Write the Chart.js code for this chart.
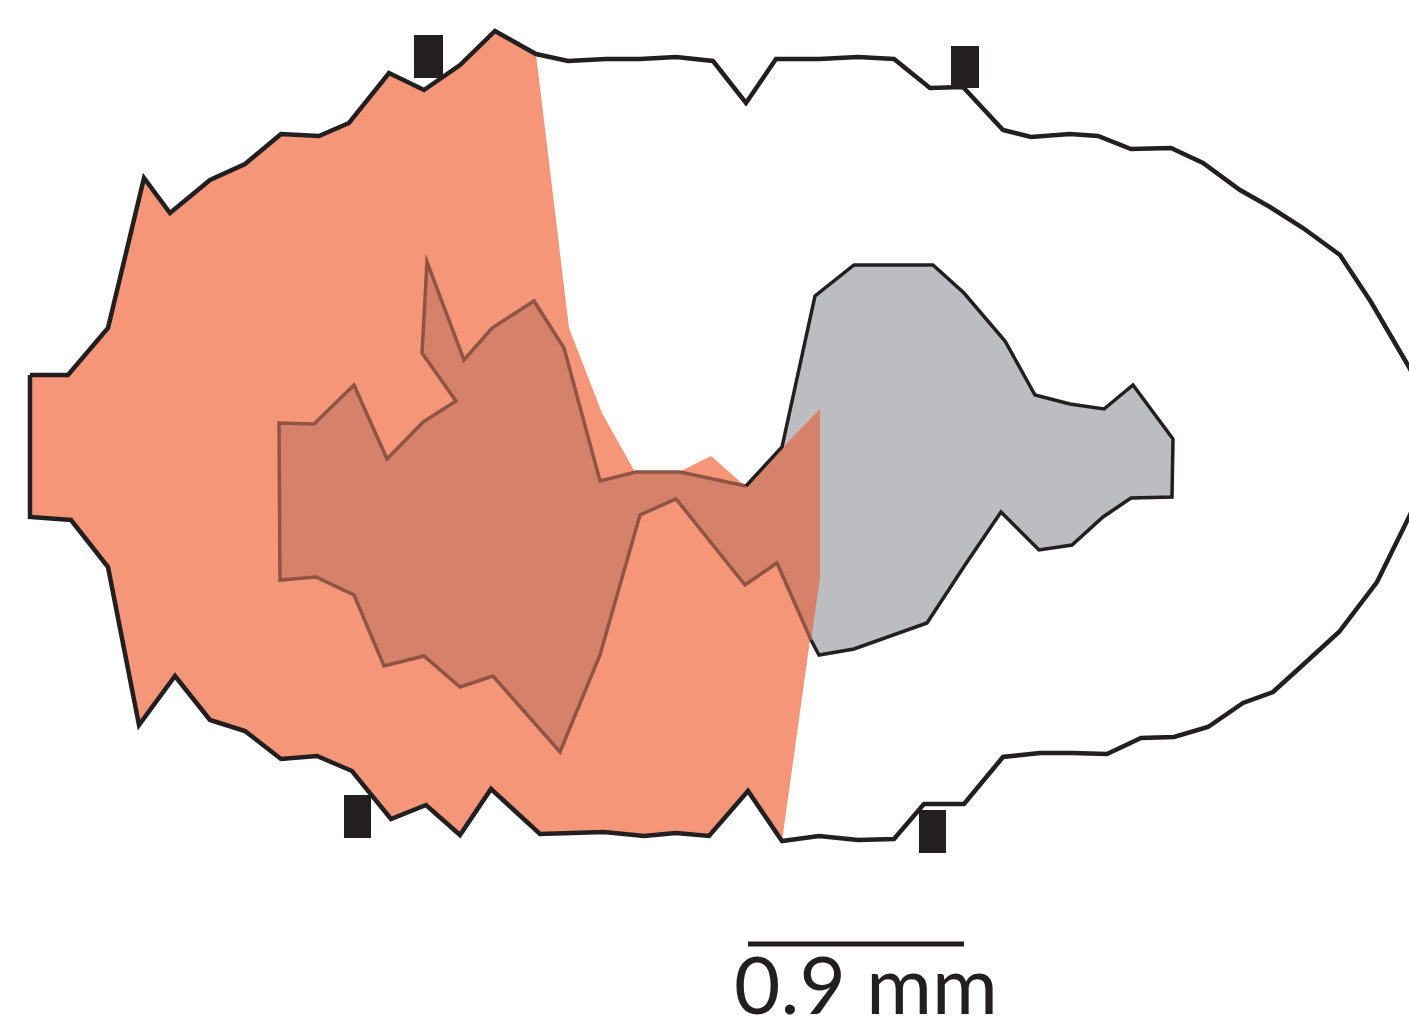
<!DOCTYPE html>
<html>
<head>
<meta charset="utf-8">
<script src="https://cdn.jsdelivr.net/npm/chart.js@4.4.1/dist/chart.umd.min.js"></script>
<style>
  html, body { margin: 0; padding: 0; background: #ffffff; }
  #wrap { width: 1409px; height: 1017px; position: relative; }
</style>
</head>
<body>
<div id="wrap"><canvas id="map"></canvas></div>
<script>
// Section map in drawing-grid units (240 units = 1 mm), y grows downwards.

// Outer section outline: upper border from the left edge to the right tip
const outlineTop = [
  [30,375],[68,375],[108,328],[144,178],[170,213],[210,180],[245,164],[281,134],
  [319,136],[349,123],[389,73],[424,90],[460,65],[495,31],[536,54],[568,61],
  [606,59],[640,59],[676,57],[713,61],[746,103],[776,59],[819,59],[858,57],
  [894,59],[930,88],[963,87],[1003,130],[1031,137],[1070,134],[1098,136],
  [1131,149],[1171,148],[1203,163],[1240,190],[1270,207],[1303,228],[1340,255],
  [1371,302],[1409,367],[1445,440]
];
// ...and lower border from the right tip back to the left edge
const outlineBottom = [
  [1409,517],[1377,582],[1339,632],[1305,663],[1273,692],[1243,703],[1208,727],
  [1174,737],[1141,738],[1107,754],[1072,753],[1040,753],[1003,757],[964,804],
  [924,804],[894,839],[858,840],[819,836],[782,841],[748,791],[709,836],[676,833],
  [644,836],[604,832],[540,834],[491,789],[460,835],[426,805],[391,819],[352,771],
  [317,756],[281,759],[245,731],[210,720],[175,676],[139,725],[108,567],[71,520],
  [30,517]
];

// Right-hand border of the salmon zone, from the top of the section downwards
const salmonEdge = [
  [569,328],[602,413],[635,472],[679,472],[711,456],[745,486],[820,409],
  [820,577],[811,633],[782,841]
];
// Where the salmon zone leaves the outline at the top and rejoins it at the bottom
const salmonTopJoin = [536,54];
const salmonBottomJoin = [782,841];

// Overlap zone: the rimmed part of its border...
const overlapRim = [
  [811,640],[777,563],[745,585],[676,499],[640,515],[600,655],[560,752],[493,676],
  [460,687],[424,656],[384,666],[354,595],[316,577],[280,580],[279,423],[314,424],
  [354,385],[387,459],[423,422],[456,401],[422,353],[427,262],[464,360],[492,328],
  [534,301],[564,348],[600,481],[636,472],[680,472],[746,486]
];
// ...and the unrimmed part that closes it
const overlapOpen = [[746,486],[820,409],[820,578],[811,640]];

// Grey zone border (the stretch hidden under the overlap is closed straight)
const greyRim = [
  [746,486],[782,447],[815,296],[854,265],[933,265],[964,293],[1005,341],
  [1035,395],[1070,404],[1104,409],[1133,385],[1173,439],[1172,497],[1131,498],
  [1103,517],[1072,545],[1039,550],[1001,512],[965,565],[927,623],[854,649],
  [819,655],[811,640]
];

// Black tick blocks on the outline: [left, top, right, bottom]
const markers = [
  [414,35,443,78],[951,46,979,88],[344,795,371,838],[919,810,946,853]
];

// Scale bar
const unitsPerMm = 240;
const scaleBarMm = 0.9;
const scaleBarStart = [748,944];
const scaleLabelAnchor = [866,1014];

// ---------- build the datasets ----------
const pts = arr => arr.map(([x, y]) => ({ x, y }));
const closed = arr => arr.concat([arr[0]]);
const sameAs = p => q => q[0] === p[0] && q[1] === p[1];

const outlinePath = closed(outlineTop.concat(outlineBottom));

const bottomFrom = outlineBottom.findIndex(sameAs(salmonBottomJoin));
const topTo = outlineTop.findIndex(sameAs(salmonTopJoin));
const salmonZone = outlineBottom.slice(bottomFrom)
  .concat(outlineTop.slice(0, topTo + 1))
  .concat(salmonEdge);

const overlapZone = overlapRim.concat(overlapOpen.slice(1));

const markerShapes = markers.map(([x0, y0, x1, y1]) =>
  [[x0,y0],[x1,y0],[x1,y1],[x0,y1],[x0,y0]]);

const scaleBar = [scaleBarStart, [scaleBarStart[0] + scaleBarMm * unitsPerMm, scaleBarStart[1]]];
const scaleLabel = scaleBarMm + ' mm';

const NONE = 'rgba(0,0,0,0)';
const INK = '#231f20';

const area = (data, color, label) => ({
  label, data: pts(data), fill: 'shape', backgroundColor: color,
  borderColor: NONE, borderWidth: 1
});
const rim = (data, color, width, label) => ({
  label, data: pts(data), fill: false, borderColor: color,
  borderWidth: width, backgroundColor: NONE
});

// listed from the bottom layer to the top layer
const layers = [
  area(closed(greyRim), '#bcbdc0', 'grey zone'),
  area(salmonZone, '#f59679', 'salmon zone'),
  area(overlapZone, '#d6816a', 'overlap'),
  rim(overlapRim, '#8f5444', 3.5, 'overlap rim'),
  rim(greyRim, INK, 3.5, 'grey rim'),
  rim(outlinePath, INK, 4.5, 'outline'),
  ...markerShapes.map((m, i) => area(m, INK, 'marker ' + (i + 1))),
  rim(scaleBar, INK, 5, 'scale bar')
];
layers.forEach((d, i) => {
  d.order = layers.length - i;
  d.showLine = true;
  d.pointRadius = 0;
  d.pointHoverRadius = 0;
  d.tension = 0;
  d.borderJoinStyle = 'miter';
  d.borderCapStyle = 'butt';
});

const scaleLabelPlugin = {
  id: 'scaleLabel',
  afterDatasetsDraw(chart) {
    const { ctx, scales: { x, y } } = chart;
    ctx.save();
    ctx.font = '400 80px Lato, "Open Sans", sans-serif';
    ctx.fillStyle = INK;
    ctx.textAlign = 'center';
    ctx.textBaseline = 'alphabetic';
    ctx.fillText(scaleLabel, x.getPixelForValue(scaleLabelAnchor[0]), y.getPixelForValue(scaleLabelAnchor[1]));
    ctx.restore();
  }
};

new Chart(document.getElementById('map'), {
  type: 'scatter',
  data: { datasets: layers },
  options: {
    responsive: true,
    maintainAspectRatio: false,
    animation: false,
    layout: { padding: 0 },
    scales: {
      x: { type: 'linear', min: 0, max: 1409, display: false },
      y: { type: 'linear', min: 0, max: 1017, reverse: true, display: false }
    },
    plugins: {
      legend: { display: false },
      tooltip: { enabled: false }
    },
    events: []
  },
  plugins: [scaleLabelPlugin]
});
</script>
</body>
</html>
